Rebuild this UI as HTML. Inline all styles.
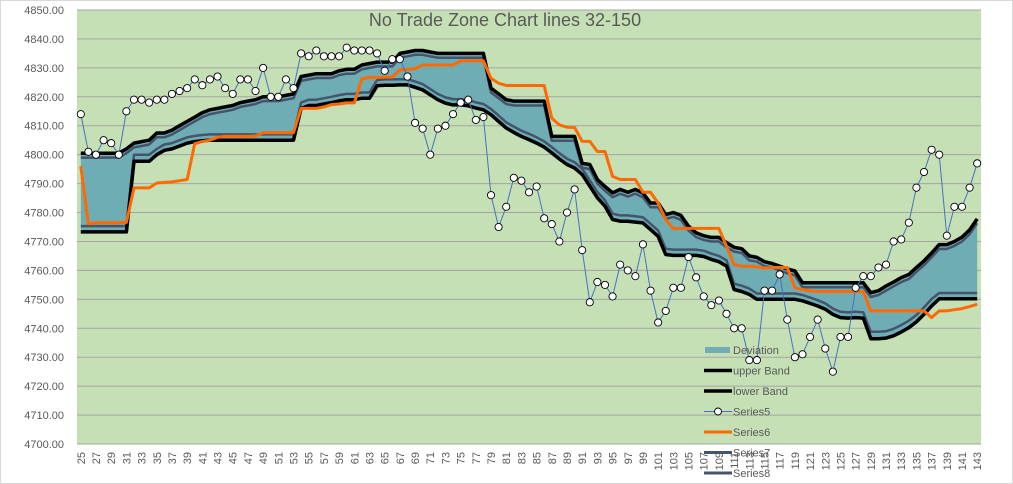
<!DOCTYPE html>
<html><head><meta charset="utf-8"><style>
html,body{margin:0;padding:0;background:#fff;}
svg{display:block;font-family:"Liberation Sans",sans-serif;}
</style></head><body>
<svg id="chart" width="1013" height="484" viewBox="0 0 1013 484" xmlns="http://www.w3.org/2000/svg">
<rect x="0.5" y="0.5" width="1012" height="483" fill="#fff" stroke="#d9d9d9"/>
<rect x="77" y="10" width="904" height="434" fill="#c5e0b4"/>
<g id="grid"></g>
<g id="yax"></g>
<g id="xax"></g>
<g id="series"></g>
<text x="505" y="26" text-anchor="middle" font-size="18" fill="#595959">No Trade Zone Chart lines 32-150</text>
<g id="legend"></g>
</svg>
<script>
const firstCat = 25, lastCat = 143;
const yTicks = [4700,4710,4720,4730,4740,4750,4760,4770,4780,4790,4800,4810,4820,4830,4840,4850];
const upperBand = [4800.5,4800.5,4800.5,4800.5,4800.5,4800.5,4802,4804,4804.5,4805,4807.5,4807.5,4808.5,4810,4811.5,4813,4814.5,4815.5,4816,4816.5,4817,4818,4818.5,4819,4820,4820,4820,4820.5,4821,4827,4827.5,4828,4828,4828,4829,4829.5,4829.5,4831,4831.5,4832,4832,4832,4835,4835.5,4836,4836,4835.5,4835,4835,4835,4835,4835,4835,4835,4823,4821,4819,4818.5,4818.5,4818.5,4818.5,4818.5,4806.3,4806.3,4806.3,4806.3,4797,4796.6,4791.4,4789,4786.8,4788,4787,4788,4786.8,4783.3,4783.3,4779.3,4780,4779,4775.3,4773,4772,4771.4,4771.4,4769.6,4768,4767.5,4765,4764.5,4763,4762.4,4761.5,4760.5,4759.8,4755.7,4755.7,4755.7,4755.7,4755.7,4755.7,4755.7,4755.7,4755.7,4752.3,4753,4754.6,4756,4757.5,4758.6,4761,4763.3,4766,4768.9,4768.9,4770,4771.5,4774,4777.8];
const lowerBand = [4773.3,4773.3,4773.3,4773.3,4773.3,4773.3,4773.3,4797.7,4797.7,4797.7,4800,4801.5,4802,4803,4804,4804.5,4804.8,4805,4805,4805,4805,4805,4805,4805,4805,4805,4805,4805,4805,4816,4817,4817,4817.5,4818,4818.6,4819,4819,4819.5,4819.5,4823.8,4824,4824,4824.1,4824.1,4823.3,4822.4,4820.7,4819,4817.8,4817.2,4817.2,4816.9,4816.1,4815.5,4813.8,4811.5,4809.2,4807.7,4806.3,4805.2,4804,4802.6,4800.6,4798.5,4796.6,4795.4,4793.1,4789.1,4785.1,4782.2,4777.6,4777,4777,4776.7,4776.4,4774.1,4771.8,4765.5,4765.2,4765.2,4765.2,4765.2,4764.8,4763.8,4763,4761.5,4753.4,4752.7,4751.7,4750,4750,4750,4750,4750,4750,4749.5,4748.6,4747.7,4746.6,4744.8,4743.7,4743.5,4743.7,4743.5,4736.4,4736.4,4736.6,4737.4,4738.7,4740.2,4742.2,4744.8,4747.7,4750.2,4750.2,4750.2,4750.2,4750.2,4750.2];
const series5 = [4814,4801,4800,4805,4804,4800,4815,4819,4819,4818,4819,4819,4821,4822,4823,4826,4824,4826,4827,4823,4821,4826,4826,4822,4830,4820,4820,4826,4823,4835,4834,4836,4834,4834,4834,4837,4836,4836,4836,4835,4829,4833,4833,4827,4811,4809,4800,4809,4810,4814,4818,4819,4812,4813,4786,4775,4782,4792,4791,4787,4789,4778,4776,4770,4780,4788,4767,4749,4756,4755,4751,4762,4760,4758,4769,4753,4742,4746,4754,4754,4764.6,4757.6,4751,4748,4749.6,4745,4740,4740,4729,4729,4753,4753,4758.6,4743,4730,4731,4737,4743,4733,4725,4737,4737,4754,4758,4758,4761,4762,4770,4770.7,4776.5,4788.6,4794,4801.7,4800,4772,4782,4782,4788.6,4797];
const series6 = [4796,4776.1,4776.5,4776.5,4776.5,4776.5,4776.6,4788.5,4788.5,4788.5,4790.2,4790.4,4790.6,4791,4791.4,4803.8,4804.5,4805,4806,4806.3,4806.3,4806.3,4806.3,4806.5,4807.6,4807.6,4807.6,4807.6,4807.6,4816,4816,4816,4816.5,4817.3,4817.5,4817.9,4817.9,4826.2,4826.7,4826.7,4826.8,4826.8,4829.3,4829.5,4829.7,4831,4831,4831,4831,4831,4832.4,4832.4,4832.4,4832.4,4826.4,4824.7,4823.9,4823.9,4823.9,4823.9,4823.9,4823.9,4812.6,4810.3,4809.5,4809.4,4804.6,4804.6,4801.1,4801.1,4792.5,4791.4,4791.4,4791.4,4787,4787,4783.3,4777.6,4774.4,4774.5,4774.5,4774.5,4774.5,4774.5,4774.5,4768.4,4762,4761.5,4761.5,4761.2,4760.8,4761,4761,4761,4754,4753.4,4752.9,4752.7,4752.7,4752.7,4752.7,4752.7,4752.7,4752.7,4746,4746,4746,4746,4746,4746,4746,4746,4743.7,4746,4746,4746.4,4746.8,4747.5,4748.3];
const series7 = [4799,4799,4799,4799,4799,4799,4800.5,4802.5,4803,4803.5,4806,4806,4807,4808.5,4810,4811.5,4813,4814,4814.5,4815,4815.5,4816.5,4817,4817.5,4818.5,4818.5,4818.5,4819,4819.5,4825.5,4826,4826.5,4826.5,4826.5,4827.5,4828,4828,4829.5,4830,4830.5,4830.5,4830.5,4833.5,4834,4834.5,4834.5,4834,4833.5,4833.5,4833.5,4833.5,4833.5,4833.5,4833.5,4821.5,4819.5,4817.5,4817,4817,4817,4817,4817,4804.8,4804.8,4804.8,4804.8,4795.5,4795,4790,4787.5,4785.3,4786.5,4785.5,4786.5,4785.3,4781.8,4781.8,4777.8,4778.5,4777.5,4773.8,4771.5,4770.5,4770,4770,4768,4766.5,4766,4763.5,4763,4761.5,4761,4760,4759,4758.3,4754.2,4754.2,4754.2,4754.2,4754.2,4754.2,4754.2,4754.2,4754.2,4750.8,4751.5,4753,4754.5,4756,4757,4759.5,4761.8,4764.5,4767.4,4767.4,4768.5,4770,4772.5,4776.3];
const series8 = [4775.3,4775.3,4775.3,4775.3,4775.3,4775.3,4775.3,4800,4800,4800,4802,4803.5,4804,4805,4806,4806.5,4806.8,4807,4807,4807,4807,4807,4807,4807,4807,4807,4807,4807,4807,4818,4819,4819,4819.5,4820,4820.6,4821,4821,4821.5,4821.5,4825.8,4826,4826,4826.1,4826.1,4825.3,4824.4,4822.7,4821,4819.8,4819.2,4819.2,4818.9,4818.1,4817.5,4815.8,4813.5,4811.2,4809.7,4808.3,4807.2,4806,4804.6,4802.6,4800.5,4798.6,4797.4,4795.1,4791.1,4787.1,4784.2,4779.6,4779,4779,4778.7,4778.4,4776.1,4773.8,4767.5,4767.2,4767.2,4767.2,4767.2,4766.8,4765.8,4765,4763.5,4755.4,4754.7,4753.7,4752,4752,4752,4752,4752,4752,4751.5,4750.6,4749.7,4748.6,4746.8,4745.7,4745.5,4745.7,4745.5,4738.8,4738.8,4739,4739.8,4741.1,4742.6,4744.6,4747.2,4750.1,4752.2,4752.2,4752.2,4752.2,4752.2,4752.2];

const NS = "http://www.w3.org/2000/svg";
const PL = 77, PR = 981, PT = 10, PB = 444, YMIN = 4700, YMAX = 4850;
const nCat = lastCat - firstCat + 1;
const step = (PR - PL) / nCat;
function xPos(i){ return PL + step * (i + 0.5); }
function yPos(v){ return PB - (v - YMIN) / (YMAX - YMIN) * (PB - PT); }
function mk(tag, attrs, parent){ const e = document.createElementNS(NS, tag); for (const k in attrs) e.setAttribute(k, attrs[k]); parent.appendChild(e); return e; }

const grid = document.getElementById('grid'), yax = document.getElementById('yax'), xax = document.getElementById('xax');
yTicks.forEach(function(t){
  const gl = mk('line', {x1:PL, x2:PR, y1:yPos(t), y2:yPos(t), stroke:'#a5a5a5', 'stroke-width':1}, grid);
  
  
  const tx = mk('text', {x:64, y:yPos(t)+4, 'text-anchor':'end', 'font-size':11, fill:'#595959'}, yax);
  tx.textContent = t.toFixed(2);
  
  
});
for (let i = 0; i < nCat; i += 2) {
  const x = xPos(i) + 4, y = 452;
  const tx = mk('text', {x:x, y:y, 'text-anchor':'end', 'font-size':11, fill:'#595959', transform:'rotate(-90 '+x+' '+y+')'}, xax);
  tx.textContent = String(firstCat + i);
  
  
}

const sg = document.getElementById('series');
function pts(arr){ return arr.map(function(v,i){ return xPos(i).toFixed(1)+','+yPos(v).toFixed(1); }); }
// deviation fill
const upP = pts(upperBand), loP = pts(lowerBand).reverse();
const area = mk('polygon', {points: upP.concat(loP).join(' '), fill:'#6fadb5'}, sg);


function line(arr, color, w, name){
  const p = mk('polyline', {points: pts(arr).join(' '), fill:'none', stroke:color, 'stroke-width':w, 'stroke-linejoin':'round'}, sg);
  
  
}
line(series7, '#44546a', 2.5, 'series7-line');
line(series8, '#44546a', 2.5, 'series8-line');
line(upperBand, '#000', 3.5, 'upper-band-line');
line(lowerBand, '#000', 3.5, 'lower-band-line');
line(series6, '#ff6a00', 3, 'series6-line');
line(series5, '#4472c4', 1, 'series5-line');
series5.forEach(function(v,i){
  const c = mk('circle', {cx:xPos(i), cy:yPos(v), r:3.6, fill:'#fff', stroke:'#000', 'stroke-width':0.9}, sg);
  
  
});

// legend
const lg = document.getElementById('legend');
const legendItems = ['Deviation','upper Band','lower Band','Series5','Series6','Series7','Series8'];
legendItems.forEach(function(name, k){
  const y = 350 + k * 20.5;
  if (k === 0) {
    const r = mk('rect', {x:705, y:y-3, width:25, height:6, fill:'#6fadb5'}, lg);
    
    
  } else {
    const col = k <= 2 ? '#000' : (k === 3 ? '#4472c4' : (k === 4 ? '#ff6a00' : '#44546a'));
    const w = k <= 2 ? 3.5 : (k === 3 ? 1 : 3);
    const l = mk('line', {x1:704, x2:732, y1:y, y2:y, stroke:col, 'stroke-width':w}, lg);
    
    
    if (k === 3) {
      const c = mk('circle', {cx:718, cy:y, r:3.5, fill:'#fff', stroke:'#000', 'stroke-width':0.9}, lg);
      
      
    }
  }
  const t = mk('text', {x:733, y:y+4, 'font-size':11, fill:'#595959'}, lg);
  t.textContent = name;
  
  
});
</script>
</body></html>
